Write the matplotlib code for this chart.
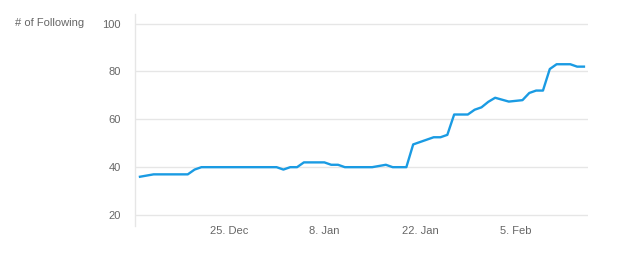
import pandas as pd
import matplotlib.pyplot as plt
import matplotlib.dates as mdates

plt.rcParams['font.family'] = ['Liberation Sans', 'DejaVu Sans']

# daily follower counts, starting 12 Dec
start = "2016-12-12"
following = [36, 36.5, 37, 37, 37, 37, 37, 37, 39, 40,
             40, 40, 40, 40, 40, 40, 40, 40, 40, 40,
             40, 39, 40, 40, 42, 42, 42, 42, 41, 41,
             40, 40, 40, 40, 40, 40.5, 41, 40, 40, 40,
             49.5, 50.5, 51.5, 52.5, 52.5, 53.5, 62, 62, 62, 64,
             65, 67.3, 69, 68.2, 67.4, 67.7, 68, 71, 72, 72,
             81, 83, 83, 83, 82, 82]
tick_dates = ["2016-12-25", "2017-01-08", "2017-01-22", "2017-02-05"]
tick_labels = ["25. Dec", "8. Jan", "22. Jan", "5. Feb"]
y_ticks = [20, 40, 60, 80, 100]

dates = pd.date_range(start, periods=len(following), freq="D")

fig = plt.figure(figsize=(6.44, 2.54), dpi=100)
ax = fig.add_axes([0.2096, 0.110, 0.7035, 0.835])

ax.plot(dates, following, color="#1a9be3", lw=1.7, solid_joinstyle="round")

ax.set_xlim(dates[0] - pd.Timedelta(hours=17.5), dates[0] + pd.Timedelta(days=65.6))
ax.set_ylim(15.4, 104)
ax.set_yticks(y_ticks)
ax.set_xticks(pd.to_datetime(tick_dates))
ax.set_xticklabels(tick_labels)

ax.grid(axis="y", color="#e6e6e6", lw=1)
ax.set_axisbelow(True)
for s in ["top", "right", "bottom"]:
    ax.spines[s].set_visible(False)
ax.spines["left"].set_color("#e6e6e6")
ax.spines["left"].set_linewidth(1)

ax.tick_params(axis="both", length=0, labelsize=8, labelcolor="#666666")
ax.tick_params(axis="y", pad=10)
ax.tick_params(axis="x", pad=0)

fig.text(15 / 644, 1 - 23 / 254, "# of Following", fontsize=8, color="#666666",
         ha="left", va="center")

fig.savefig("out.png", dpi=100)
